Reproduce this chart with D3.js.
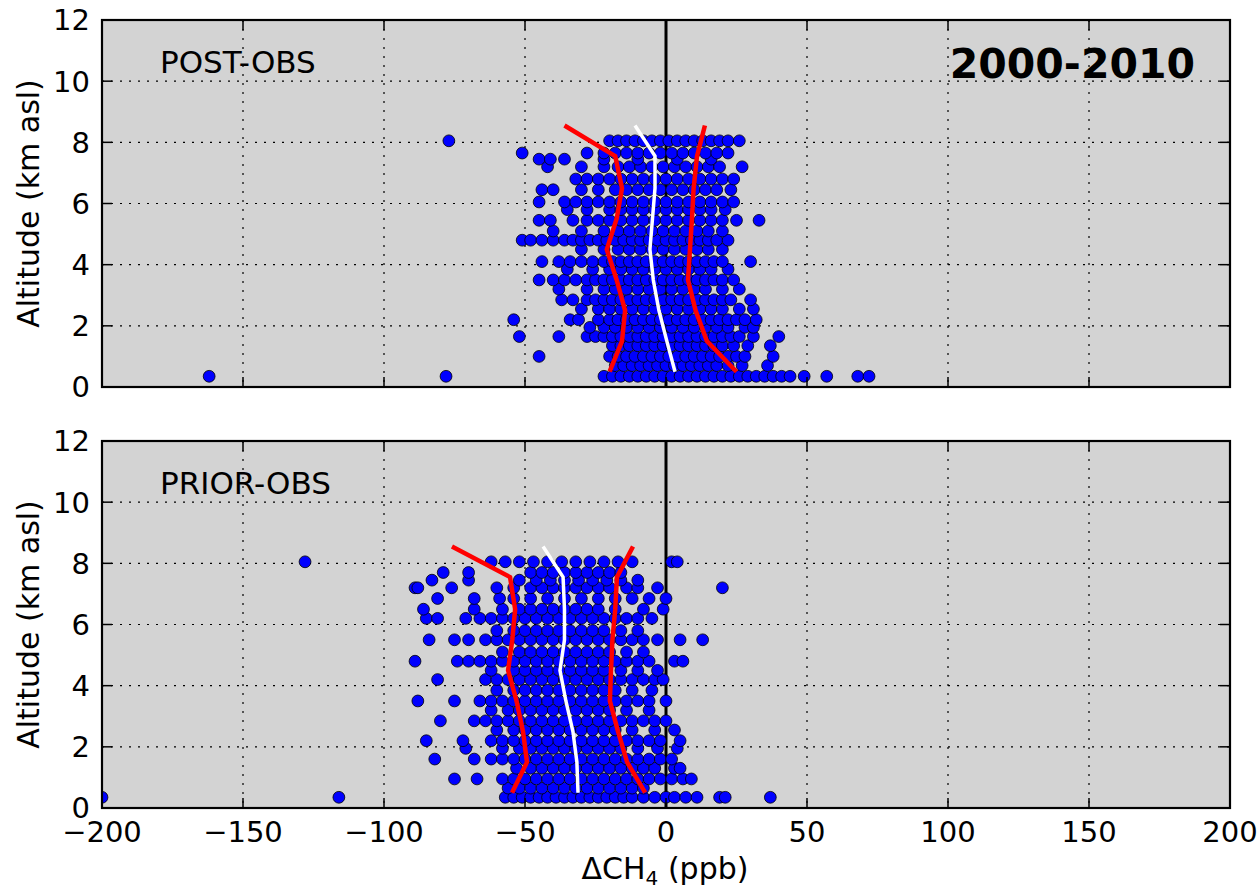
<!DOCTYPE html>
<html>
<head>
<meta charset="utf-8">
<script src="https://cdn.jsdelivr.net/npm/d3@7"></script>
<style>
body { margin: 0; background: #fff; }
text { font-family: "DejaVu Sans", sans-serif; fill: #000; }
</style>
</head>
<body>
<svg id="chart" width="1259" height="889"></svg>
<script>
// x domain / y domain and tick values
var x_ticks = [-200, -150, -100, -50, 0, 50, 100, 150, 200];
var y_ticks = [0, 2, 4, 6, 8, 10, 12];

// POST-OBS scatter: altitude rows and the dCH4 values on each row
var post_alt = [0.35, 0.7, 1.0, 1.35, 1.65, 1.95, 2.2, 2.55, 2.85, 3.2, 3.5, 3.85, 4.1, 4.5, 4.8,
	5.1, 5.45, 5.8, 6.05, 6.45, 6.8, 7.2, 7.45, 7.65, 8.05];
var post_x = [
	[-162, -78, -22, -19, -16, -13, -10, -7, -4, -1, 2, 5, 8, 11, 14, 17, 20, 23, 26, 29, 32, 35, 38, 41, 44, 49, 57, 68, 72],
	[-18, -15, -12, -9, -6, -3, 0, 3, 6, 9, 12, 15, 18, 22, 27, 36],
	[-45, -20, -17, -14, -11, -8, -5, -2, 1, 4, 7, 10, 13, 16, 19, 22, 25, 28, 38],
	[-19, -16, -13, -10, -7, -4, -1, 2, 5, 8, 11, 14, 17, 20, 24, 29, 37],
	[-52, -38, -28, -25, -22, -19, -16, -13, -10, -7, -4, -1, 2, 5, 8, 11, 14, 17, 20, 23, 26, 31, 40],
	[-27, -22, -18, -14, -10, -6, -2, 2, 6, 10, 14, 18, 22, 28, 31],
	[-54, -34, -31, -24, -20, -17, -14, -11, -8, -5, -2, 1, 4, 7, 10, 13, 16, 19, 22, 25, 28, 32],
	[-30, -24, -20, -16, -12, -8, -4, 0, 4, 8, 12, 16, 20, 26, 31],
	[-37, -33, -28, -25, -22, -19, -16, -13, -10, -7, -4, -1, 2, 5, 8, 11, 14, 17, 20, 23, 30],
	[-38, -28, -22, -18, -14, -10, -6, -2, 2, 6, 10, 14, 20, 26],
	[-45, -40, -36, -32, -28, -25, -22, -19, -16, -13, -10, -7, -4, -1, 2, 5, 8, 11, 14, 17, 20, 24],
	[-35, -26, -20, -16, -12, -8, -4, 0, 4, 8, 12, 16, 22],
	[-44, -38, -34, -30, -26, -22, -19, -16, -13, -10, -7, -4, -1, 2, 5, 8, 11, 14, 17, 20, 30],
	[-30, -22, -17, -13, -9, -5, -1, 3, 7, 11, 15, 20],
	[-51, -48, -44, -40, -36, -33, -30, -27, -24, -21, -18, -15, -12, -9, -6, -3, 0, 3, 6, 9, 12, 15, 18, 22],
	[-40, -30, -22, -17, -13, -9, -5, -1, 3, 7, 11, 15, 20],
	[-45, -41, -33, -28, -24, -20, -16, -12, -8, -4, 0, 4, 8, 12, 16, 20, 25, 33],
	[-35, -28, -20, -16, -12, -8, -4, 0, 4, 8, 12, 16, 21],
	[-45, -36, -32, -28, -24, -20, -16, -12, -8, -4, 0, 4, 8, 12, 16, 20, 24],
	[-44, -40, -30, -24, -18, -14, -10, -6, -2, 2, 6, 10, 14, 18, 23],
	[-32, -28, -24, -20, -16, -12, -8, -4, 0, 4, 8, 12, 16, 20, 24],
	[-42, -30, -22, -17, -13, -9, -5, -1, 3, 7, 11, 15, 19, 27],
	[-45, -41, -36, -22, -10, 4, 16],
	[-51, -28, -22, -18, -14, -10, -6, -2, 2, 6, 10, 14, 18, 22],
	[-77, -20, -17, -14, -11, -8, -5, -2, 1, 4, 7, 10, 13, 16, 19, 22, 26]
];

// PRIOR-OBS scatter
var prior_alt = [0.35, 0.65, 0.95, 1.3, 1.6, 1.95, 2.2, 2.55, 2.85, 3.2, 3.5, 3.85, 4.2, 4.5, 4.8,
	5.1, 5.5, 5.8, 6.2, 6.5, 6.85, 7.2, 7.45, 7.7, 8.05];
var prior_x = [
	[-200, -116, -57, -54, -51, -48, -45, -42, -39, -36, -33, -30, -27, -24, -21, -18, -15, -12, -8, -4, 0, 3, 7, 11, 19, 21, 37],
	[-56, -52, -48, -44, -40, -36, -32, -28, -24, -20, -16, -12, -8],
	[-75, -67, -58, -54, -50, -46, -42, -38, -34, -30, -26, -22, -18, -14, -10, -6, -2, 2, 6, 9],
	[-53, -48, -44, -40, -36, -32, -28, -24, -20, -16, -12, -8, -4, 3, 5],
	[-82, -68, -62, -58, -54, -50, -46, -42, -38, -34, -30, -26, -22, -18, -14, -10, -6, -2, 2],
	[-71, -58, -52, -48, -44, -40, -36, -32, -28, -24, -20, -16, -10, -3, 4],
	[-85, -72, -62, -58, -54, -50, -46, -42, -38, -34, -30, -26, -22, -18, -14, -10, -6, -2, 5],
	[-60, -54, -50, -46, -42, -38, -34, -30, -26, -22, -18, -12, -4, 3],
	[-80, -68, -64, -60, -56, -52, -48, -44, -40, -36, -32, -28, -24, -20, -16, -12, -8, -4, 0],
	[-62, -56, -52, -48, -44, -40, -36, -32, -28, -24, -20, -14, -6],
	[-88, -75, -66, -62, -58, -54, -50, -46, -42, -38, -34, -30, -26, -22, -18, -14, -10, -6, 0],
	[-60, -54, -50, -46, -42, -38, -34, -30, -26, -22, -18, -12, -5],
	[-81, -64, -60, -56, -52, -48, -44, -40, -36, -32, -28, -24, -20, -16, -12, -8, -4, -1],
	[-62, -54, -50, -46, -42, -38, -34, -30, -26, -22, -16, -10, -3],
	[-89, -74, -70, -66, -62, -58, -54, -50, -46, -42, -38, -34, -30, -26, -22, -18, -14, -10, -6, 3, 6],
	[-58, -52, -48, -44, -40, -36, -32, -28, -24, -20, -14, -8],
	[-84, -75, -70, -64, -60, -56, -52, -48, -44, -40, -36, -32, -28, -24, -20, -16, -12, -8, -3, 5, 13],
	[-60, -54, -50, -46, -42, -38, -34, -30, -26, -22, -16, -10],
	[-85, -81, -71, -66, -62, -58, -54, -50, -46, -42, -38, -34, -30, -26, -22, -18, -14, -10, -5],
	[-86, -68, -58, -52, -48, -44, -40, -36, -32, -28, -24, -18, -8, -1],
	[-81, -68, -59, -54, -48, -42, -36, -30, -24, -18, -12, -6, 0],
	[-89, -88, -76, -60, -54, -48, -44, -40, -36, -32, -28, -24, -20, -14, -10, -3, 20],
	[-83, -70, -52, -46, -41, -36, -31, -26, -21, -16, -10],
	[-79, -70, -48, -44, -40, -36, -32, -28, -24, -20, -16],
	[-128, -62, -57, -52, -47, -42, -37, -32, -27, -22, -17, -12, 2, 4]
];

// percentile / median profiles
var line_alt = [0.5, 1.5, 2.5, 3.5, 4.5, 5.5, 6.5, 7.55, 8.55];
var post_lo = [-20, -15.6, -14.5, -17.5, -21, -17.5, -15.6, -18, -36];
var post_hi = [25, 14.5, 10.5, 7.8, 8.5, 9.2, 9.8, 11, 13.8];
var post_med = [3.2, 0.3, -2.5, -4.5, -5.7, -4.8, -3.9, -3.9, -11];
var prior_lo = [-54.6, -49.3, -50.7, -53, -56, -54.5, -53.5, -55.3, -75.9];
var prior_hi = [-7.4, -13.8, -17, -19.9, -19.5, -19, -18, -17.4, -11.7];
var prior_med = [-31.2, -31.6, -33, -35.5, -37.6, -36, -36, -36.5, -43.6];

var svg = d3.select('#chart');
var left = 102, right = 1230;

var x = d3.scaleLinear().domain([-200, 200]).range([left, right]);

var panels = [
	{id: 'post', top: 20, bottom: 387, alt: post_alt, xs: post_x, lo: post_lo, hi: post_hi, med: post_med, label: 'POST-OBS', xlabels: false},
	{id: 'prior', top: 441, bottom: 808, alt: prior_alt, xs: prior_x, lo: prior_lo, hi: prior_hi, med: prior_med, label: 'PRIOR-OBS', xlabels: true}
];

panels.forEach(function (p) {
	var y = d3.scaleLinear().domain([0, 12]).range([p.bottom, p.top]);
	var g = svg.append('g');

	g.append('clipPath').attr('id', 'clip_' + p.id)
		.append('rect').attr('x', left).attr('y', p.top).attr('width', right - left).attr('height', p.bottom - p.top);

	g.append('rect').attr('x', left).attr('y', p.top).attr('width', right - left).attr('height', p.bottom - p.top)
		.attr('fill', '#d3d3d3');

	// dotted grid
	var grid = g.append('g').attr('stroke', '#000').attr('stroke-width', 1.2).attr('stroke-dasharray', '2,7');
	grid.selectAll('.gx').data(x_ticks.slice(1, -1)).enter().append('line')
		.attr('x1', function (d) { return x(d); }).attr('x2', function (d) { return x(d); })
		.attr('y1', p.top).attr('y2', p.bottom);
	grid.selectAll('.gy').data(y_ticks.slice(1, -1)).enter().append('line')
		.attr('y1', function (d) { return y(d); }).attr('y2', function (d) { return y(d); })
		.attr('x1', left).attr('x2', right);

	// zero line
	g.append('line').attr('x1', x(0)).attr('x2', x(0)).attr('y1', p.top).attr('y2', p.bottom)
		.attr('stroke', '#000').attr('stroke-width', 3);

	// scatter
	var pts = [];
	p.alt.forEach(function (a, i) {
		p.xs[i].forEach(function (v) { pts.push([v, a]); });
	});
	g.append('g').attr('clip-path', 'url(#clip_' + p.id + ')')
		.selectAll('circle').data(pts).enter().append('circle')
		.attr('cx', function (d) { return x(d[0]); })
		.attr('cy', function (d) { return y(d[1]); })
		.attr('r', 5.9)
		.attr('fill', '#0000ff')
		.attr('stroke', '#000')
		.attr('stroke-width', 0.8);

	// profiles
	var line = d3.line()
		.x(function (d) { return x(d[0]); })
		.y(function (d) { return y(d[1]); });
	[[p.lo, '#ff0000', 4.5], [p.hi, '#ff0000', 4.5], [p.med, '#ffffff', 3.5]].forEach(function (s) {
		g.append('path')
			.datum(s[0].map(function (v, i) { return [v, line_alt[i]]; }))
			.attr('d', line)
			.attr('fill', 'none')
			.attr('stroke', s[1])
			.attr('stroke-width', s[2]);
	});

	// frame
	g.append('rect').attr('x', left).attr('y', p.top).attr('width', right - left).attr('height', p.bottom - p.top)
		.attr('fill', 'none').attr('stroke', '#000').attr('stroke-width', 2.2);

	// inward ticks, all four sides
	var tl = 10;
	var tk = g.append('g').attr('stroke', '#000').attr('stroke-width', 1.5);
	x_ticks.forEach(function (d) {
		tk.append('line').attr('x1', x(d)).attr('x2', x(d)).attr('y1', p.bottom).attr('y2', p.bottom - tl);
		tk.append('line').attr('x1', x(d)).attr('x2', x(d)).attr('y1', p.top).attr('y2', p.top + tl);
	});
	y_ticks.forEach(function (d) {
		tk.append('line').attr('y1', y(d)).attr('y2', y(d)).attr('x1', left).attr('x2', left + tl);
		tk.append('line').attr('y1', y(d)).attr('y2', y(d)).attr('x1', right).attr('x2', right - tl);
	});

	// y tick labels
	g.selectAll('.ylab').data(y_ticks).enter().append('text')
		.attr('x', left - 12)
		.attr('y', function (d) { return y(d); })
		.attr('dy', '0.36em')
		.attr('text-anchor', 'end')
		.style('font-size', '29px')
		.text(function (d) { return d; });

	if (p.xlabels) {
		g.selectAll('.xlab').data(x_ticks).enter().append('text')
			.attr('x', function (d) { return x(d); })
			.attr('y', p.bottom + 34)
			.attr('text-anchor', 'middle')
			.style('font-size', '29px')
			.text(function (d) { return d < 0 ? '\u2212' + Math.abs(d) : d; });
	}

	// y axis title
	g.append('text')
		.attr('transform', 'translate(39,' + ((p.top + p.bottom) / 2) + ') rotate(-90)')
		.attr('text-anchor', 'middle')
		.style('font-size', '30px')
		.text('Altitude (km asl)');

	// panel label
	g.append('text').attr('x', 160).attr('y', p.top + 53)
		.style('font-size', '31px')
		.text(p.label);
});

svg.append('text').attr('x', 1195).attr('y', 78)
	.attr('text-anchor', 'end')
	.style('font-size', '41px').style('font-weight', 'bold')
	.text('2000-2010');

var xt = svg.append('text').attr('x', 665).attr('y', 879)
	.attr('text-anchor', 'middle')
	.style('font-size', '30px');
xt.append('tspan').text('\u0394CH');
xt.append('tspan').attr('dy', 6).style('font-size', '20px').text('4');
xt.append('tspan').attr('dy', -6).text(' (ppb)');
</script>
</body>
</html>
